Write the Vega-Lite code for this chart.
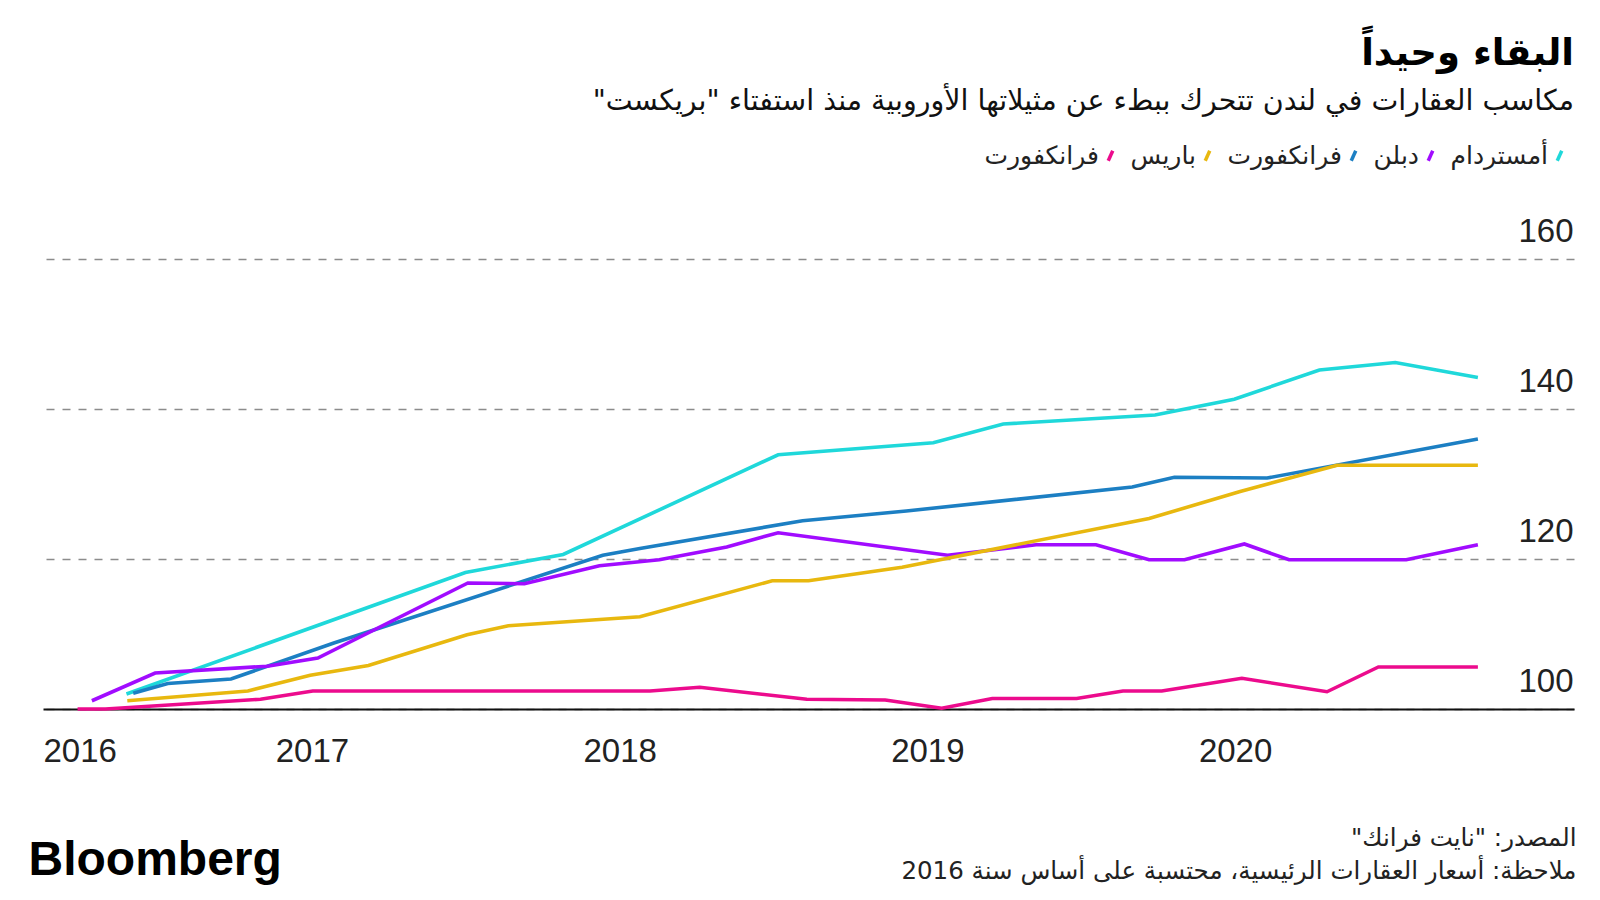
{
  "$schema": "https://vega.github.io/schema/vega-lite/v6.json",
  "width": 1531,
  "height": 450,
  "autosize": {"type": "none"},
  "padding": {"left": 43, "top": 259, "right": 26, "bottom": 191},
  "background": "white",
  "title": {
    "text": "البقاء وحيداً",
    "subtitle": "‏مكاسب العقارات في لندن تتحرك ببطء عن مثيلاتها الأوروبية منذ استفتاء \"بريكست\"‏",
    "anchor": "end",
    "frame": "group",
    "orient": "top",
    "font": "DejaVu Sans",
    "fontSize": 37,
    "fontWeight": "bold",
    "color": "#000000",
    "subtitleFont": "DejaVu Sans",
    "subtitleFontSize": 28.5,
    "subtitleColor": "#111111",
    "subtitlePadding": 14,
    "offset": 27
  },
  "data": {
    "values": [
      {"city": "لندن", "date": "2016-03-29", "value": 100.0},
      {"city": "لندن", "date": "2016-05-01", "value": 100.0},
      {"city": "لندن", "date": "2016-11-01", "value": 101.3},
      {"city": "لندن", "date": "2017-01-02", "value": 102.4},
      {"city": "لندن", "date": "2018-02-06", "value": 102.4},
      {"city": "لندن", "date": "2018-04-06", "value": 102.9},
      {"city": "لندن", "date": "2018-08-11", "value": 101.3},
      {"city": "لندن", "date": "2018-11-12", "value": 101.2},
      {"city": "لندن", "date": "2019-01-18", "value": 100.1},
      {"city": "لندن", "date": "2019-03-19", "value": 101.4},
      {"city": "لندن", "date": "2019-06-27", "value": 101.4},
      {"city": "لندن", "date": "2019-08-21", "value": 102.4},
      {"city": "لندن", "date": "2019-10-06", "value": 102.4},
      {"city": "لندن", "date": "2020-01-09", "value": 104.1},
      {"city": "لندن", "date": "2020-04-19", "value": 102.3},
      {"city": "لندن", "date": "2020-06-19", "value": 105.6},
      {"city": "لندن", "date": "2020-10-15", "value": 105.6},

      {"city": "أمستردام", "date": "2016-05-26", "value": 102.0},
      {"city": "أمستردام", "date": "2017-07-02", "value": 118.2},
      {"city": "أمستردام", "date": "2017-10-26", "value": 120.6},
      {"city": "أمستردام", "date": "2018-07-08", "value": 133.9},
      {"city": "أمستردام", "date": "2019-01-08", "value": 135.5},
      {"city": "أمستردام", "date": "2019-04-01", "value": 138.0},
      {"city": "أمستردام", "date": "2019-09-28", "value": 139.2},
      {"city": "أمستردام", "date": "2019-12-31", "value": 141.3},
      {"city": "أمستردام", "date": "2020-04-10", "value": 145.2},
      {"city": "أمستردام", "date": "2020-07-09", "value": 146.2},
      {"city": "أمستردام", "date": "2020-10-15", "value": 144.2},

      {"city": "فرانكفورت", "date": "2016-06-03", "value": 102.1},
      {"city": "فرانكفورت", "date": "2016-07-14", "value": 103.4},
      {"city": "فرانكفورت", "date": "2016-09-27", "value": 104.0},
      {"city": "فرانكفورت", "date": "2017-01-27", "value": 108.8},
      {"city": "فرانكفورت", "date": "2017-12-12", "value": 120.5},
      {"city": "فرانكفورت", "date": "2018-01-25", "value": 121.4},
      {"city": "فرانكفورت", "date": "2018-08-06", "value": 125.1},
      {"city": "فرانكفورت", "date": "2018-12-07", "value": 126.4},
      {"city": "فرانكفورت", "date": "2019-09-01", "value": 129.6},
      {"city": "فرانكفورت", "date": "2019-10-21", "value": 130.9},
      {"city": "فرانكفورت", "date": "2020-02-08", "value": 130.8},
      {"city": "فرانكفورت", "date": "2020-10-15", "value": 136.0},

      {"city": "دبلن", "date": "2016-04-15", "value": 101.1},
      {"city": "دبلن", "date": "2016-06-29", "value": 104.8},
      {"city": "دبلن", "date": "2016-11-09", "value": 105.7},
      {"city": "دبلن", "date": "2017-01-08", "value": 106.8},
      {"city": "دبلن", "date": "2017-07-05", "value": 116.8},
      {"city": "دبلن", "date": "2017-09-10", "value": 116.7},
      {"city": "دبلن", "date": "2017-12-08", "value": 119.1},
      {"city": "دبلن", "date": "2018-02-17", "value": 119.9},
      {"city": "دبلن", "date": "2018-05-08", "value": 121.6},
      {"city": "دبلن", "date": "2018-07-08", "value": 123.5},
      {"city": "دبلن", "date": "2019-01-25", "value": 120.5},
      {"city": "دبلن", "date": "2019-03-19", "value": 121.2},
      {"city": "دبلن", "date": "2019-05-10", "value": 121.9},
      {"city": "دبلن", "date": "2019-07-20", "value": 121.9},
      {"city": "دبلن", "date": "2019-09-21", "value": 119.9},
      {"city": "دبلن", "date": "2019-11-02", "value": 119.9},
      {"city": "دبلن", "date": "2020-01-12", "value": 122.0},
      {"city": "دبلن", "date": "2020-03-05", "value": 119.9},
      {"city": "دبلن", "date": "2020-07-22", "value": 119.9},
      {"city": "دبلن", "date": "2020-10-15", "value": 121.9},

      {"city": "باريس", "date": "2016-05-27", "value": 101.1},
      {"city": "باريس", "date": "2016-10-17", "value": 102.4},
      {"city": "باريس", "date": "2016-12-30", "value": 104.5},
      {"city": "باريس", "date": "2017-03-09", "value": 105.8},
      {"city": "باريس", "date": "2017-07-04", "value": 109.9},
      {"city": "باريس", "date": "2017-08-22", "value": 111.1},
      {"city": "باريس", "date": "2018-01-25", "value": 112.3},
      {"city": "باريس", "date": "2018-07-01", "value": 117.1},
      {"city": "باريس", "date": "2018-08-13", "value": 117.1},
      {"city": "باريس", "date": "2018-12-02", "value": 118.9},
      {"city": "باريس", "date": "2019-09-21", "value": 125.4},
      {"city": "باريس", "date": "2020-01-07", "value": 129.0},
      {"city": "باريس", "date": "2020-05-01", "value": 132.5},
      {"city": "باريس", "date": "2020-10-15", "value": 132.5}
    ]
  },
  "mark": {"type": "line", "strokeWidth": 3.6, "clip": false},
  "encoding": {
    "x": {
      "field": "date",
      "type": "temporal",
      "scale": {
        "domain": [
          {"year": 2016, "month": 2, "date": 17},
          {"year": 2021, "month": 2, "date": 6}
        ]
      },
      "axis": {
        "values": [
          {"year": 2016, "month": 2, "date": 17},
          {"year": 2017, "month": 1, "date": 1},
          {"year": 2018, "month": 1, "date": 1},
          {"year": 2019, "month": 1, "date": 1},
          {"year": 2020, "month": 1, "date": 1}
        ],
        "format": "%Y",
        "labelFlush": true,
        "labelFont": "Liberation Sans",
        "labelFontSize": 33,
        "labelColor": "#222222",
        "labelPadding": 26,
        "ticks": false,
        "tickSize": 0,
        "grid": false,
        "domain": true,
        "domainColor": "#111111",
        "domainWidth": 2,
        "zindex": 0,
        "title": [
          "‏المصدر: \"نايت فرانك\"‏",
          "ملاحظة: أسعار العقارات الرئيسية، محتسبة على أساس سنة 2016"
        ],
        "titleFont": "DejaVu Sans",
        "titleFontSize": 24.5,
        "titleFontWeight": "normal",
        "titleColor": "#222222",
        "titleAlign": "right",
        "titleBaseline": "top",
        "titleLineHeight": 33,
        "titleX": 1533,
        "titleY": 117
      }
    },
    "y": {
      "field": "value",
      "type": "quantitative",
      "scale": {"domain": [100, 160], "nice": false, "zero": false},
      "axis": {
        "orient": "right",
        "values": [100, 120, 140, 160],
        "domain": false,
        "ticks": false,
        "tickSize": 0,
        "labelAlign": "right",
        "labelBaseline": "alphabetic",
        "labelPadding": -1,
        "labelOffset": -18,
        "labelFont": "Liberation Sans",
        "labelFontSize": 33,
        "labelColor": "#222222",
        "labelFlush": false,
        "labelOverlap": false,
        "grid": true,
        "gridDash": [8, 8],
        "gridColor": "#8c8c8c",
        "gridWidth": 1.3,
        "title": "Bloomberg",
        "titleAngle": 0,
        "titleX": -1546,
        "titleY": 615,
        "titleAlign": "left",
        "titleBaseline": "alphabetic",
        "titleFont": "Liberation Sans",
        "titleFontSize": 48,
        "titleFontWeight": "bold",
        "titleColor": "#000000"
      }
    },
    "color": {
      "field": "city",
      "type": "nominal",
      "scale": {
        "domain": ["لندن", "باريس", "فرانكفورت", "دبلن", "أمستردام"],
        "range": ["#ec0b8d", "#e8b80f", "#1c7fc3", "#a10cff", "#1fd8da"]
      },
      "legend": {
        "orient": "none",
        "legendX": 1055,
        "legendY": -116,
        "direction": "horizontal",
        "title": null,
        "symbolType": "M-0.45,1L0.45,-1",
        "symbolSize": 100,
        "symbolStrokeWidth": 3.5,
        "labelAlign": "right",
        "labelOffset": -24,
        "labelFont": "DejaVu Sans",
        "labelFontSize": 25,
        "labelColor": "#222222",
        "labelLimit": 0,
        "columnPadding": 10,
        "labelExpr": "datum.label == 'لندن' ? 'فرانكفورت' : datum.label"
      }
    }
  },
  "config": {"view": {"stroke": null}}
}
